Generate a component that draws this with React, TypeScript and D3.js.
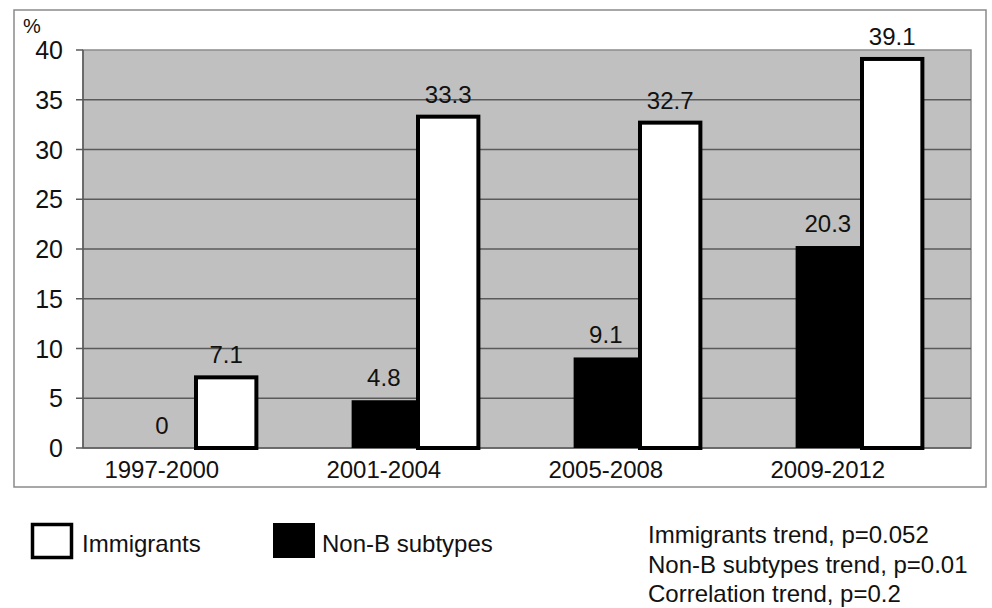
import React from "react";
import * as d3 from "d3";

const categories = ["1997-2000", "2001-2004", "2005-2008", "2009-2012"];
const nonB = [0, 4.8, 9.1, 20.3];
const immigrants = [7.1, 33.3, 32.7, 39.1];
const yTicks = [0, 5, 10, 15, 20, 25, 30, 35, 40];
const seriesNames = ["Immigrants", "Non-B subtypes"];
const notes = [
  "Immigrants trend, p=0.052",
  "Non-B subtypes trend, p=0.01",
  "Correlation trend, p=0.2",
];

const W = 992;
const H = 608;
const plot = { left: 83, top: 50, right: 971, bottom: 448 };
const FONT = "'Liberation Sans', Arial, sans-serif";

export default function App() {
  const x0 = d3
    .scaleBand<string>()
    .domain(categories)
    .range([plot.left, plot.right])
    .paddingInner(0.42)
    .paddingOuter(0.21);
  const x1 = d3
    .scaleBand<string>()
    .domain(["nonB", "imm"])
    .range([0, x0.bandwidth()]);
  const y = d3.scaleLinear().domain([0, 40]).range([plot.bottom, plot.top]);
  const sw = 4;
  const labelGap = 14;

  return (
    <svg
      width={W}
      height={H}
      style={{ position: "absolute", left: 0, top: 0, background: "#fff" }}
      fontFamily={FONT}
    >
      <rect x={14} y={10} width={972} height={477} fill="#fff" stroke="#8a8a8a" strokeWidth={1.5} />
      <rect
        x={plot.left}
        y={plot.top}
        width={plot.right - plot.left}
        height={plot.bottom - plot.top}
        fill="#c0c0c0"
        stroke="#8a8a8a"
        strokeWidth={1.5}
      />
      {yTicks.map((t) => (
        <g key={t}>
          {t > 0 && t < 40 && (
            <line x1={plot.left} x2={plot.right} y1={y(t)} y2={y(t)} stroke="#5a5a5a" strokeWidth={1.5} />
          )}
          <line x1={plot.left - 7} x2={plot.left} y1={y(t)} y2={y(t)} stroke="#5a5a5a" strokeWidth={1.5} />
          <text x={63} y={y(t)} dy="0.36em" textAnchor="end" fontSize={25} fill="#111">
            {t}
          </text>
        </g>
      ))}
      <line x1={plot.left} x2={plot.left} y1={plot.top} y2={plot.bottom} stroke="#5a5a5a" strokeWidth={1.5} />
      <line x1={plot.left} x2={plot.right} y1={plot.bottom} y2={plot.bottom} stroke="#5a5a5a" strokeWidth={1.5} />
      <text x={23} y={33} fontSize={20} fill="#111">%</text>

      {categories.map((c, i) => {
        const gx = x0(c)!;
        const bx = gx + x1("nonB")!;
        const wx = gx + x1("imm")!;
        const bw = x1.bandwidth();
        return (
          <g key={c}>
            {nonB[i] > 0 && (
              <rect x={bx} y={y(nonB[i])} width={bw} height={y(0) - y(nonB[i])} fill="#000" />
            )}
            <rect
              x={wx + sw / 2}
              y={y(immigrants[i])}
              width={bw - sw}
              height={y(0) - y(immigrants[i])}
              fill="#fff"
              stroke="#000"
              strokeWidth={sw}
            />
            <text x={bx + bw / 2} y={y(nonB[i]) - labelGap} textAnchor="middle" fontSize={24} fill="#111">
              {nonB[i]}
            </text>
            <text x={wx + bw / 2} y={y(immigrants[i]) - labelGap} textAnchor="middle" fontSize={24} fill="#111">
              {immigrants[i]}
            </text>
            <text x={gx + bw / 2} y={478} textAnchor="middle" fontSize={24} fill="#111">
              {c}
            </text>
          </g>
        );
      })}

      {/* legend */}
      <rect x={32.5} y={524.5} width={39} height={33} fill="#fff" stroke="#000" strokeWidth={3.5} />
      <text x={82} y={552} fontSize={24} fill="#111">{seriesNames[0]}</text>
      <rect x={273} y={523} width={42} height={35} fill="#000" />
      <text x={322} y={552} fontSize={24} fill="#111">{seriesNames[1]}</text>

      {notes.map((n, i) => (
        <text key={n} x={648} y={543 + i * 29.5} fontSize={24} fill="#111">
          {n}
        </text>
      ))}
    </svg>
  );
}
